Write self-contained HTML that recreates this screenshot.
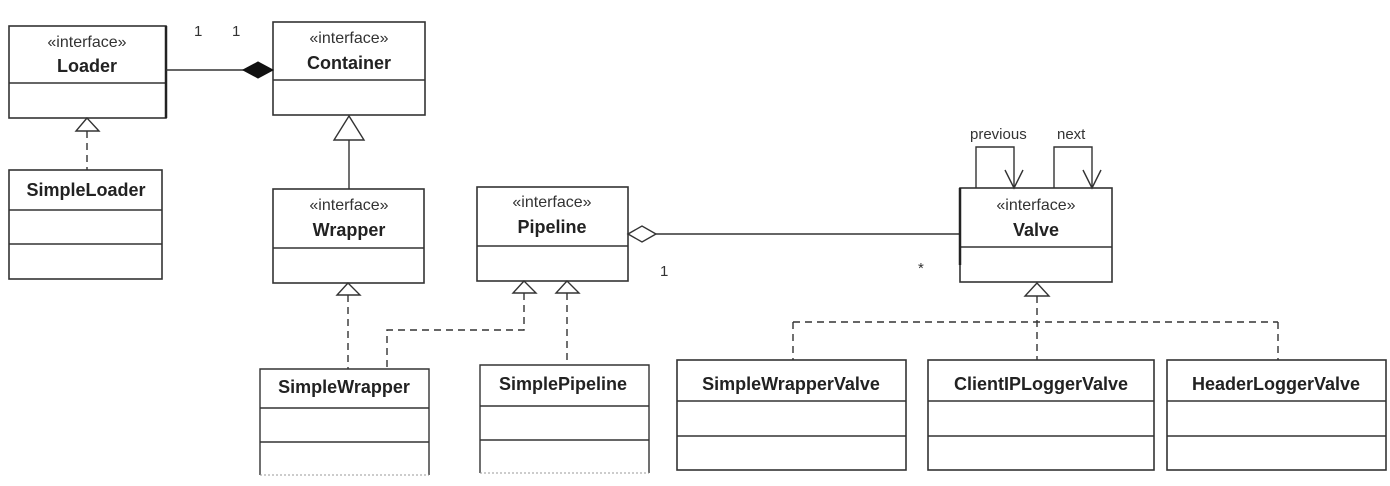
<!DOCTYPE html>
<html><head><meta charset="utf-8"><style>
html,body{margin:0;padding:0;background:#fff;}
svg{display:block;font-family:"Liberation Sans",Arial,sans-serif;}
.b{fill:#fff;stroke:#333;stroke-width:1.6;}
.l{stroke:#333;stroke-width:1.4;fill:none;}
.d{stroke:#333;stroke-width:1.4;fill:none;stroke-dasharray:7,5;}
.t{fill:#fff;stroke:#333;stroke-width:1.4;}
.s{font-size:16px;fill:#333;text-anchor:middle;}
.n{font-size:18px;font-weight:bold;fill:#222;text-anchor:middle;}
.m{font-size:15px;fill:#333;}
</style></head><body>
<svg width="1390" height="486" viewBox="0 0 1390 486">
<!-- Loader -->
<rect class="b" x="9" y="26" width="157" height="92"/><line class="l" x1="9" y1="83" x2="166" y2="83"/>
<text class="s" x="87" y="47">«interface»</text><text class="n" x="87" y="72">Loader</text>
<line x1="166" y1="26" x2="166" y2="118" stroke="#222" stroke-width="2.5"/>
<!-- Container -->
<rect class="b" x="273" y="22" width="152" height="93"/><line class="l" x1="273" y1="80" x2="425" y2="80"/>
<text class="s" x="349" y="43">«interface»</text><text class="n" x="349" y="69">Container</text>
<!-- composition -->
<line class="l" x1="166" y1="70" x2="245" y2="70"/>
<polygon points="243,70 258,62 273,70 258,78" fill="#111" stroke="#111"/>
<text class="m" x="194" y="36">1</text><text class="m" x="232" y="36">1</text>
<!-- SimpleLoader -->
<rect class="b" x="9" y="170" width="153" height="109"/>
<line class="l" x1="9" y1="210" x2="162" y2="210"/><line class="l" x1="9" y1="244" x2="162" y2="244"/>
<text class="n" x="86" y="196">SimpleLoader</text>
<line class="d" x1="87" y1="131" x2="87" y2="170"/>
<polygon class="t" points="87,118 76,131 99,131"/>
<!-- Wrapper -->
<rect class="b" x="273" y="189" width="151" height="94"/><line class="l" x1="273" y1="248" x2="424" y2="248"/>
<text class="s" x="349" y="210">«interface»</text><text class="n" x="349" y="236">Wrapper</text>
<line class="l" x1="349" y1="140" x2="349" y2="189"/>
<polygon class="t" points="349,116 334,140 364,140"/>
<!-- Pipeline -->
<rect class="b" x="477" y="187" width="151" height="94"/><line class="l" x1="477" y1="246" x2="628" y2="246"/>
<text class="s" x="552" y="207">«interface»</text><text class="n" x="552" y="233">Pipeline</text>
<polygon points="628,234 642,226 656,234 642,242" fill="#fff" stroke="#333" stroke-width="1.4"/>
<line class="l" x1="656" y1="234" x2="960" y2="234"/>
<text class="m" x="660" y="276">1</text><text class="m" x="918" y="273">*</text>
<!-- SimpleWrapper -->
<path class="l" d="M260,475 V369 H429 V475" stroke-width="1.6"/>
<line x1="260" y1="475" x2="429" y2="475" stroke="#999" stroke-width="1" stroke-dasharray="2,2"/>
<line class="l" x1="260" y1="408" x2="429" y2="408"/><line class="l" x1="260" y1="442" x2="429" y2="442"/>
<text class="n" x="344" y="393">SimpleWrapper</text>
<line class="d" x1="348" y1="295" x2="348" y2="369"/>
<polygon class="t" points="348,283 337,295 360,295"/>
<!-- SimplePipeline -->
<path class="l" d="M480,473 V365 H649 V473" stroke-width="1.6"/>
<line x1="480" y1="473" x2="649" y2="473" stroke="#999" stroke-width="1" stroke-dasharray="2,2"/>
<line class="l" x1="480" y1="406" x2="649" y2="406"/><line class="l" x1="480" y1="440" x2="649" y2="440"/>
<text class="n" x="563" y="390">SimplePipeline</text>
<polyline class="d" points="524,293 524,330 387,330 387,369"/>
<line class="d" x1="567" y1="293" x2="567" y2="365"/>
<polygon class="t" points="524,281 513,293 536,293"/>
<polygon class="t" points="567,281 556,293 579,293"/>
<!-- Valve -->
<rect class="b" x="960" y="188" width="152" height="94"/><line class="l" x1="960" y1="247" x2="1112" y2="247"/>
<line x1="960" y1="188" x2="960" y2="265" stroke="#222" stroke-width="2.5"/>
<text class="s" x="1036" y="210">«interface»</text><text class="n" x="1036" y="236">Valve</text>
<polyline class="l" points="976,188 976,147 1014,147 1014,188"/>
<polyline class="l" points="1005,170 1014,188 1023,170"/>
<polyline class="l" points="1054,188 1054,147 1092,147 1092,188"/>
<polyline class="l" points="1083,170 1092,188 1101,170"/>
<text class="m" x="970" y="139">previous</text><text class="m" x="1057" y="139">next</text>
<!-- Valve impls -->
<polygon class="t" points="1037,283 1025,296 1049,296"/>
<line class="d" x1="1037" y1="296" x2="1037" y2="360"/>
<line class="d" x1="793" y1="322" x2="1278" y2="322"/>
<line class="d" x1="793" y1="322" x2="793" y2="360"/>
<line class="d" x1="1278" y1="322" x2="1278" y2="360"/>
<rect class="b" x="677" y="360" width="229" height="110"/>
<line class="l" x1="677" y1="401" x2="906" y2="401"/><line class="l" x1="677" y1="436" x2="906" y2="436"/>
<text class="n" x="791" y="390">SimpleWrapperValve</text>
<rect class="b" x="928" y="360" width="226" height="110"/>
<line class="l" x1="928" y1="401" x2="1154" y2="401"/><line class="l" x1="928" y1="436" x2="1154" y2="436"/>
<text class="n" x="1041" y="390">ClientIPLoggerValve</text>
<rect class="b" x="1167" y="360" width="219" height="110"/>
<line class="l" x1="1167" y1="401" x2="1386" y2="401"/><line class="l" x1="1167" y1="436" x2="1386" y2="436"/>
<text class="n" x="1276" y="390">HeaderLoggerValve</text>
</svg>
</body></html>
